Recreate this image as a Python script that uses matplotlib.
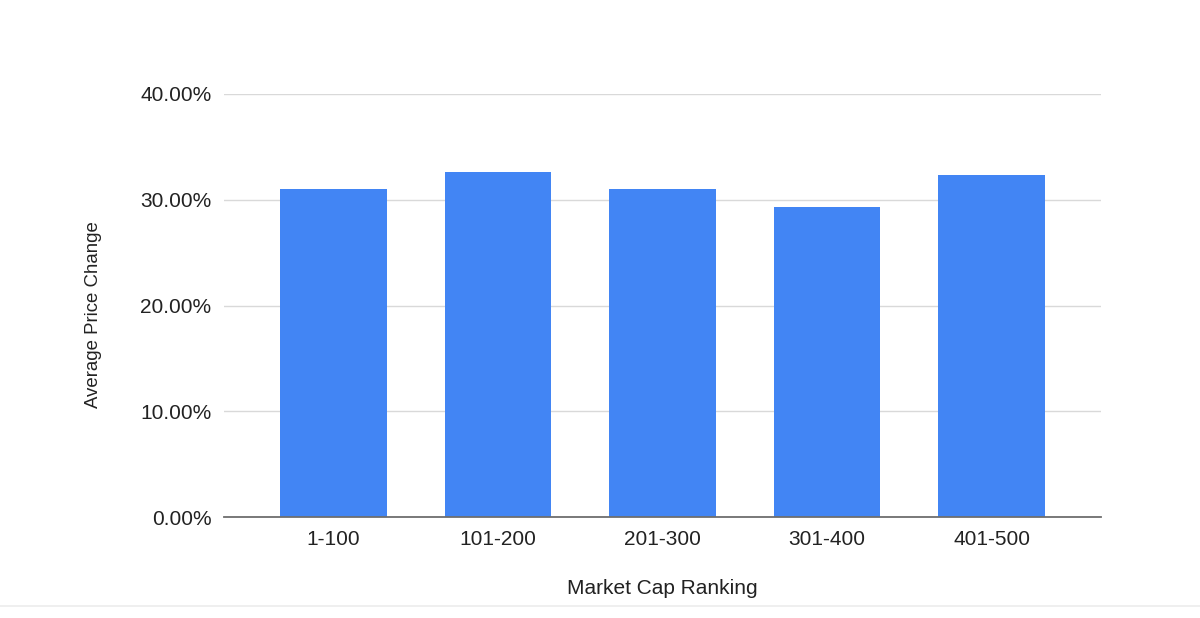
import matplotlib.pyplot as plt
from matplotlib.lines import Line2D
from matplotlib.ticker import FuncFormatter


RANKINGS = ["1-100", "101-200", "201-300", "301-400", "401-500"]
PRICE_CHANGE = [31.05, 32.65, 31.05, 29.30, 32.35]
Y_TICKS = [0, 10, 20, 30, 40]

BAR_COLOR = "#4285F4"
GRID_COLOR = "#d9d9d9"
AXIS_COLOR = "#6e6e6e"
TEXT_COLOR = "#222222"


def main():
    plt.rcParams["font.family"] = ["Liberation Sans", "DejaVu Sans"]

    fig = plt.figure(figsize=(12, 6.18), dpi=100)
    ax = fig.add_axes([0.1867, 0.1634, 0.7308, 0.6845])

    positions = list(range(len(RANKINGS)))
    ax.bar(positions, PRICE_CHANGE, width=0.647, color=BAR_COLOR, zorder=3)

    ax.set_xlim(-0.665, len(RANKINGS) - 1 + 0.665)
    ax.set_ylim(0, 40)
    ax.set_yticks(Y_TICKS)
    ax.yaxis.set_major_formatter(FuncFormatter(lambda v, _: f"{v:.2f}%"))
    ax.set_xticks(positions)
    ax.set_xticklabels(RANKINGS)

    ax.grid(axis="y", color=GRID_COLOR, linewidth=1, zorder=0)
    ax.tick_params(axis="both", length=0, labelsize=15, colors=TEXT_COLOR)
    ax.tick_params(axis="y", pad=9)
    ax.tick_params(axis="x", pad=9)

    for side in ["top", "right", "left"]:
        ax.spines[side].set_visible(False)
    ax.spines["bottom"].set_color(AXIS_COLOR)
    ax.spines["bottom"].set_linewidth(1.3)
    ax.spines["bottom"].set_zorder(4)

    ax.set_xlabel("Market Cap Ranking", fontsize=15, color=TEXT_COLOR, labelpad=22)
    ax.set_ylabel("Average Price Change", fontsize=13.4, color=TEXT_COLOR)
    ax.yaxis.set_label_coords(-0.139, 0.478)

    # thin page separator at the bottom
    fig.add_artist(Line2D([0, 1], [1 - 606 / 618, 1 - 606 / 618],
                          transform=fig.transFigure, color="#ececec", linewidth=1.2))

    fig.savefig("out.png", dpi=100, facecolor="white")
    plt.close(fig)


if __name__ == "__main__":
    main()
